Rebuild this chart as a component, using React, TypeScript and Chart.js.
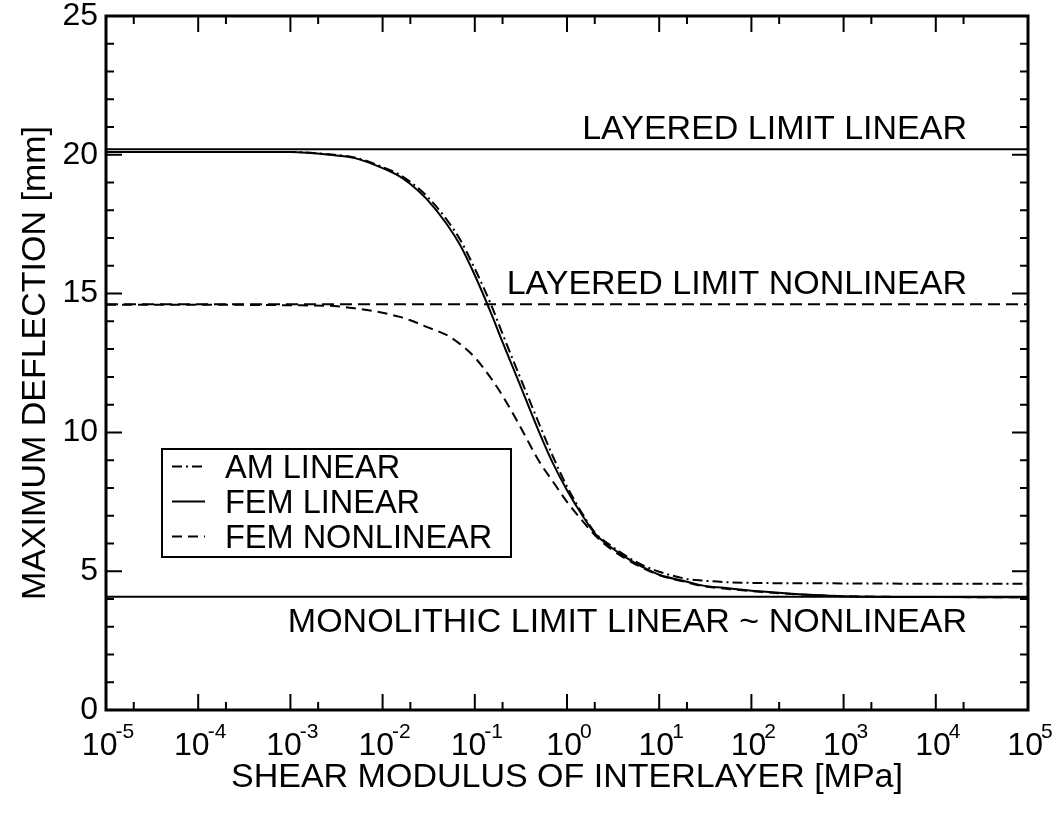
import React, { useEffect, useRef } from 'react';
import { Chart, registerables } from 'chart.js';

Chart.register(...registerables);

const FONT = '"Liberation Sans", Arial, Helvetica, sans-serif';

// shear modulus of interlayer [MPa]
const shearModulus = [1e-5, 1e-4, 1e-3, 3e-3, 5e-3, 1e-2, 1.5e-2, 2e-2, 3e-2, 5e-2, 7e-2, 0.1, 0.15, 0.2, 0.3, 0.5, 0.7, 1, 1.5, 2, 3, 5, 7, 10, 20, 30, 50, 100, 1000, 1e4, 1e5];

// maximum deflection [mm]
const amLinear = [20.1, 20.1, 20.1, 20.0, 19.9, 19.56, 19.3, 19.02, 18.52, 17.65, 16.92, 15.9, 14.6, 13.55, 12.1, 10.3, 9.15, 8.05, 7.02, 6.4, 5.92, 5.43, 5.18, 4.98, 4.72, 4.66, 4.61, 4.58, 4.56, 4.55, 4.55];
const femLinear = [20.1, 20.1, 20.1, 19.98, 19.88, 19.52, 19.24, 18.95, 18.41, 17.49, 16.72, 15.66, 14.3, 13.25, 11.82, 10.0, 8.9, 7.92, 6.96, 6.36, 5.86, 5.37, 5.11, 4.87, 4.62, 4.48, 4.4, 4.3, 4.1, 4.07, 4.06];
const femNonlinear = [14.6, 14.6, 14.58, 14.55, 14.47, 14.31, 14.17, 14.04, 13.8, 13.5, 13.17, 12.7, 11.95, 11.32, 10.3, 8.95, 8.24, 7.5, 6.78, 6.3, 5.8, 5.33, 5.08, 4.86, 4.6, 4.46, 4.38, 4.28, 4.1, 4.07, 4.06];

// limits
const layeredLinear = 20.2;
const layeredNonlinear = 14.62;
const monolithic = 4.08;
const limitLabels = ['LAYERED LIMIT LINEAR', 'LAYERED LIMIT NONLINEAR', 'MONOLITHIC LIMIT LINEAR ~ NONLINEAR'];

// ticks
const xTickExponents = [-5, -4, -3, -2, -1, 0, 1, 2, 3, 4, 5];
const xMinorTicks = [2e-5, 2e-4, 2e-3, 2e-2, 2e-1, 2, 20, 200, 2000, 2e4];
const yMajorTicks = [0, 5, 10, 15, 20, 25];
const yMinorTicks = [1, 2, 3, 4, 6, 7, 8, 9, 11, 12, 13, 14, 16, 17, 18, 19, 21, 22, 23, 24];

const limitLine = (v: number) => [{ x: shearModulus[0], y: v }, { x: shearModulus[shearModulus.length - 1], y: v }];

// рамка, внутренние риски, подписи и легенда
const decorPlugin = {
    id: 'decor',
    afterDatasetsDraw(chart: any) {
        const { ctx, chartArea: a, scales } = chart;
        const xs = scales.x;
        const ys = scales.y;
        ctx.save();
        ctx.strokeStyle = '#000';
        ctx.fillStyle = '#000';

        // ticks
        ctx.lineWidth = 2;
        ctx.beginPath();
        const xTick = (v: number, len: number) => {
            const px = xs.getPixelForValue(v);
            ctx.moveTo(px, a.bottom); ctx.lineTo(px, a.bottom - len);
            ctx.moveTo(px, a.top); ctx.lineTo(px, a.top + len);
        };
        const yTick = (v: number, len: number) => {
            const py = ys.getPixelForValue(v);
            ctx.moveTo(a.left, py); ctx.lineTo(a.left + len, py);
            ctx.moveTo(a.right, py); ctx.lineTo(a.right - len, py);
        };
        xTickExponents.forEach(e => xTick(Math.pow(10, e), 16));
        xMinorTicks.forEach(v => xTick(v, 8));
        yMajorTicks.forEach(v => yTick(v, 16));
        yMinorTicks.forEach(v => yTick(v, 8));
        ctx.stroke();

        // frame
        ctx.lineWidth = 3;
        ctx.strokeRect(a.left, a.top, a.right - a.left, a.bottom - a.top);

        // x tick labels 10^n
        ctx.textBaseline = 'alphabetic';
        ctx.textAlign = 'left';
        xTickExponents.forEach(e => {
            const px = xs.getPixelForValue(Math.pow(10, e));
            ctx.font = `32px ${FONT}`;
            const wb = ctx.measureText('10').width;
            ctx.font = `21px ${FONT}`;
            const sup = String(e);
            const ws = ctx.measureText(sup).width;
            const start = px - (wb + ws - 2) / 2 + 2;
            ctx.font = `32px ${FONT}`;
            ctx.fillText('10', start, 755);
            ctx.font = `21px ${FONT}`;
            ctx.fillText(sup, start + wb - 2, 738);
        });

        // limit labels
        ctx.font = `34px ${FONT}`;
        ctx.textAlign = 'right';
        ctx.fillText(limitLabels[0], 967, ys.getPixelForValue(layeredLinear) - 10);
        ctx.fillText(limitLabels[1], 967, ys.getPixelForValue(layeredNonlinear) - 10);
        ctx.fillText(limitLabels[2], 967, ys.getPixelForValue(monolithic) + 35);

        // legend
        ctx.lineWidth = 2;
        ctx.strokeRect(162, 449, 349, 108);
        ctx.font = `32.5px ${FONT}`;
        ctx.textAlign = 'left';
        for (let i = 0; i < 3; i++) {
            const ds = chart.data.datasets[i];
            const cy = 466.5 + 35 * i;
            ctx.setLineDash(ds.borderDash || []);
            ctx.beginPath();
            ctx.moveTo(172, cy);
            ctx.lineTo(205, cy);
            ctx.stroke();
            ctx.setLineDash([]);
            ctx.fillText(ds.label, 225, cy + 11.5);
        }
        ctx.restore();
    },
};

const App: React.FC = () => {
    const chartRef = useRef<HTMLCanvasElement>(null);
    const chartInstanceRef = useRef<Chart | null>(null);

    useEffect(() => {
        if (!chartRef.current) return;
        const c = chartRef.current.getContext('2d');
        if (!c) return;
        if (chartInstanceRef.current) chartInstanceRef.current.destroy();

        const curve = (vals: number[]) => shearModulus.map((g, i) => ({ x: g, y: vals[i] }));
        const common = { borderColor: '#000', borderWidth: 2, pointRadius: 0, fill: false };
        const noPad = (s: any) => { s.paddingTop = 0; s.paddingBottom = 0; s.paddingLeft = 0; s.paddingRight = 0; };

        chartInstanceRef.current = new Chart(c, {
            type: 'line',
            data: {
                datasets: [
                    { ...common, label: 'AM LINEAR', data: curve(amLinear), borderDash: [10, 4, 2, 4], cubicInterpolationMode: 'monotone' },
                    { ...common, label: 'FEM LINEAR', data: curve(femLinear), cubicInterpolationMode: 'monotone' },
                    { ...common, label: 'FEM NONLINEAR', data: curve(femNonlinear), borderDash: [10, 6], cubicInterpolationMode: 'monotone' },
                    { ...common, label: limitLabels[0], data: limitLine(layeredLinear) },
                    { ...common, label: limitLabels[1], data: limitLine(layeredNonlinear), borderDash: [12, 6] },
                    { ...common, label: limitLabels[2], data: limitLine(monolithic) },
                ],
            } as any,
            options: {
                responsive: false,
                animation: false,
                layout: { padding: { top: 16, right: 28, left: 0, bottom: 0 } },
                plugins: { legend: { display: false }, tooltip: { enabled: false } },
                scales: {
                    x: {
                        type: 'logarithmic',
                        min: 1e-5,
                        max: 1e5,
                        grid: { display: false, drawTicks: false },
                        border: { display: false },
                        ticks: { display: false },
                        title: {
                            display: true,
                            text: 'SHEAR MODULUS OF INTERLAYER [MPa]',
                            color: '#000',
                            font: { family: FONT, size: 34, lineHeight: 1 },
                            padding: { top: 0, bottom: 21 },
                        },
                        afterFit: (s: any) => { s.height = 106; noPad(s); },
                    },
                    y: {
                        min: 0,
                        max: 25,
                        grid: { display: false, drawTicks: false },
                        border: { display: false },
                        ticks: { stepSize: 5, color: '#000', padding: 8, font: { family: FONT, size: 32, lineHeight: 1 } },
                        title: {
                            display: true,
                            text: 'MAXIMUM DEFLECTION [mm]',
                            color: '#000',
                            font: { family: FONT, size: 34, lineHeight: 1 },
                            padding: { top: 19, bottom: 0 },
                        },
                        afterFit: (s: any) => { s.width = 106; noPad(s); },
                    },
                },
            } as any,
            plugins: [decorPlugin],
        });

        return () => {
            if (chartInstanceRef.current) {
                chartInstanceRef.current.destroy();
                chartInstanceRef.current = null;
            }
        };
    }, []);

    return (
        <div style={{ position: 'absolute', left: 0, top: 0, width: 1056, height: 816, background: '#fff' }}>
            <canvas ref={chartRef} width={1056} height={816} />
        </div>
    );
};

export default App;
